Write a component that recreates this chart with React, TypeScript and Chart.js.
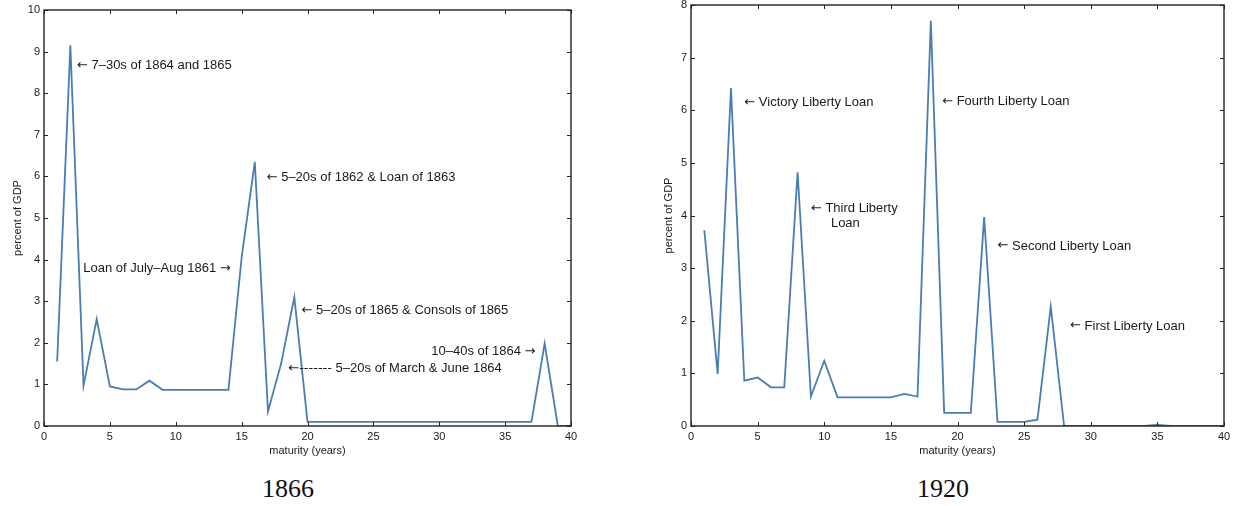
import React, { useEffect, useRef } from "react";
import { Chart, registerables } from "chart.js";

Chart.register(...registerables);

// ---------- data ----------
const maturityYears = [
  1, 2, 3, 4, 5, 6, 7, 8, 9, 10, 11, 12, 13, 14, 15, 16, 17, 18, 19, 20,
  21, 22, 23, 24, 25, 26, 27, 28, 29, 30, 31, 32, 33, 34, 35, 36, 37, 38, 39, 40,
];

const debt1866 = [
  1.55, 9.15, 0.97, 2.57, 0.95, 0.88, 0.88, 1.09, 0.87, 0.87,
  0.87, 0.87, 0.87, 0.87, 4.05, 6.35, 0.35, 1.5, 3.1, 0.1,
  0.1, 0.1, 0.1, 0.1, 0.1, 0.1, 0.1, 0.1, 0.1, 0.1,
  0.1, 0.1, 0.1, 0.1, 0.1, 0.1, 0.1, 1.98, 0, 0,
];

const debt1920 = [
  3.72, 0.99, 6.42, 0.86, 0.92, 0.735, 0.735, 4.82, 0.56, 1.24,
  0.545, 0.545, 0.545, 0.545, 0.545, 0.61, 0.56, 7.7, 0.25, 0.25,
  0.25, 3.97, 0.08, 0.08, 0.08, 0.12, 2.27, 0, 0, 0,
  0, 0, 0, 0, 0.02, 0, 0, 0, 0, 0,
];

const xTickStep = 5;
const xMax = 40;
const yMax1866 = 10;
const yMax1920 = 8;

const xTitle = "maturity (years)";
const yTitle = "percent of GDP";
const caption1866 = "1866";
const caption1920 = "1920";

// annotations (text, data-x, data-y, alignment)
const notes1866 = [
  "← 7–30s of 1864 and 1865",
  "← 5–20s of 1862 & Loan of 1863",
  "Loan of July–Aug 1861 →",
  "← 5–20s of 1865 & Consols of 1865",
  "10–40s of 1864 →",
  "←------- 5–20s of March & June 1864",
];
const notesX1866 = [2.5, 16.9, 14.17, 19.55, 37.3, 18.54];
const notesY1866 = [8.67, 5.98, 3.78, 2.78, 1.79, 1.39];
const notesAlign1866 = ["left", "left", "right", "left", "right", "left"];

const notes1920 = [
  "← Victory Liberty Loan",
  "← Fourth Liberty Loan",
  "← Third Liberty",
  "Loan",
  "← Second Liberty Loan",
  "← First Liberty Loan",
];
const notesX1920 = [4.0, 18.85, 9.0, 10.5, 23.0, 28.45];
const notesY1920 = [6.15, 6.16, 4.14, 3.84, 3.42, 1.9];
const notesAlign1920 = ["left", "left", "left", "left", "left", "left"];

// ---------- styles ----------
const SANS = "'Liberation Sans', Arial, Helvetica, sans-serif";
const ARROW_FONT = "'DejaVu Sans', sans-serif";
const SERIF = "'Liberation Serif', 'Times New Roman', serif";
const LINE_COLOR = "#4a7db1";
const TEXT_COLOR = "#1a1a1a";

type PanelProps = {
  values: number[];
  yMax: number;
  notes: string[];
  notesX: number[];
  notesY: number[];
  notesAlign: string[];
  left: number;
  width: number;
  height: number;
  axisLeftWidth: number;
  padRight: number;
  padTop: number;
  yTitlePad: number;
};

function splitArrows(txt: string): { s: string; arrow: boolean }[] {
  const out: { s: string; arrow: boolean }[] = [];
  const re = /(←-*|→)/g;
  let last = 0;
  let m: RegExpExecArray | null;
  while ((m = re.exec(txt))) {
    if (m.index > last) out.push({ s: txt.slice(last, m.index), arrow: false });
    out.push({ s: m[0], arrow: true });
    last = m.index + m[0].length;
  }
  if (last < txt.length) out.push({ s: txt.slice(last), arrow: false });
  return out;
}

function Panel(p: PanelProps) {
  const ref = useRef<HTMLCanvasElement | null>(null);

  useEffect(() => {
    if (!ref.current) return;

    const boxPlugin = {
      id: "boxTicks",
      afterDraw(chart: any) {
        const { ctx, chartArea } = chart;
        const { left, right, top, bottom } = chartArea;
        const xs = chart.scales.x;
        const ys = chart.scales.y;
        const tl = 4;
        ctx.save();
        ctx.strokeStyle = "#222";
        ctx.lineWidth = 1;
        ctx.beginPath();
        for (const t of xs.ticks) {
          const px = Math.round(xs.getPixelForValue(t.value)) + 0.5;
          ctx.moveTo(px, bottom);
          ctx.lineTo(px, bottom - tl);
          ctx.moveTo(px, top);
          ctx.lineTo(px, top + tl);
        }
        for (const t of ys.ticks) {
          const py = Math.round(ys.getPixelForValue(t.value)) + 0.5;
          ctx.moveTo(left, py);
          ctx.lineTo(left + tl, py);
          ctx.moveTo(right, py);
          ctx.lineTo(right - tl, py);
        }
        ctx.stroke();
        ctx.lineWidth = 1.4;
        ctx.strokeRect(left, top, right - left, bottom - top);
        ctx.restore();
      },
    };

    const textFont = "13px " + SANS;
    const arrowFont = "13px " + ARROW_FONT;

    const notePlugin = {
      id: "notes",
      afterDatasetsDraw(chart: any) {
        const { ctx } = chart;
        const xs = chart.scales.x;
        const ys = chart.scales.y;
        ctx.save();
        ctx.fillStyle = TEXT_COLOR;
        ctx.textBaseline = "middle";
        ctx.textAlign = "left";
        p.notes.forEach((txt, i) => {
          const parts = splitArrows(txt);
          const widths = parts.map((pt) => {
            ctx.font = pt.arrow ? arrowFont : textFont;
            return ctx.measureText(pt.s).width;
          });
          const total = widths.reduce((a, b) => a + b, 0);
          const ax = xs.getPixelForValue(p.notesX[i]);
          const ay = ys.getPixelForValue(p.notesY[i]);
          let cx = p.notesAlign[i] === "right" ? ax - total : ax;
          parts.forEach((pt, k) => {
            ctx.font = pt.arrow ? arrowFont : textFont;
            ctx.fillText(pt.s, cx, ay);
            cx += widths[k];
          });
        });
        ctx.restore();
      },
    };

    const tickFont = { family: SANS, size: 11 };
    const titleFont = { family: SANS, size: 11 };

    const chart = new Chart(ref.current, {
      type: "line",
      data: {
        datasets: [
          {
            data: maturityYears.map((m, i) => ({ x: m, y: p.values[i] })),
            borderColor: LINE_COLOR,
            borderWidth: 1.8,
            pointRadius: 0,
            tension: 0,
            fill: false,
          },
        ],
      },
      options: {
        animation: false,
        responsive: false,
        layout: { padding: { left: 0, right: p.padRight, top: p.padTop, bottom: 0 } },
        plugins: { legend: { display: false }, tooltip: { enabled: false } },
        scales: {
          x: {
            type: "linear",
            min: 0,
            max: xMax,
            ticks: { stepSize: xTickStep, padding: 4, font: tickFont, color: TEXT_COLOR, maxRotation: 0, autoSkip: false },
            grid: { display: false, drawTicks: false },
            border: { display: false },
            title: { display: true, text: xTitle, font: titleFont, color: TEXT_COLOR, padding: { top: 0, bottom: 7 } },
            afterFit: (s: any) => {
              s.height = 39;
              s.paddingLeft = 0;
              s.paddingRight = 0;
            },
          },
          y: {
            type: "linear",
            min: 0,
            max: p.yMax,
            ticks: { stepSize: 1, padding: 4, font: tickFont, color: TEXT_COLOR },
            grid: { display: false, drawTicks: false },
            border: { display: false },
            title: { display: true, text: yTitle, font: titleFont, color: TEXT_COLOR, padding: { top: p.yTitlePad, bottom: 0 } },
            afterFit: (s: any) => {
              s.width = p.axisLeftWidth;
              s.paddingTop = 0;
              s.paddingBottom = 0;
            },
          },
        },
      } as any,
      plugins: [boxPlugin, notePlugin],
    });

    return () => chart.destroy();
  }, []);

  return (
    <canvas
      ref={ref}
      width={p.width}
      height={p.height}
      style={{ position: "absolute", left: p.left, top: 0, width: p.width, height: p.height }}
    />
  );
}

export default function App() {
  const captionStyle = (cx: number): React.CSSProperties => ({
    position: "absolute",
    left: cx - 60,
    width: 120,
    top: 474,
    textAlign: "center",
    fontFamily: SERIF,
    fontSize: 26,
    lineHeight: "30px",
    color: "#111",
  });

  return (
    <div style={{ position: "fixed", left: 0, top: 0, width: 1233, height: 506, background: "#fff", overflow: "hidden" }}>
      <Panel
        values={debt1866}
        yMax={yMax1866}
        notes={notes1866}
        notesX={notesX1866}
        notesY={notesY1866}
        notesAlign={notesAlign1866}
        left={0}
        width={600}
        height={465}
        axisLeftWidth={44}
        padRight={29}
        padTop={10}
        yTitlePad={11}
      />
      <Panel
        values={debt1920}
        yMax={yMax1920}
        notes={notes1920}
        notesX={notesX1920}
        notesY={notesY1920}
        notesAlign={notesAlign1920}
        left={640}
        width={593}
        height={465}
        axisLeftWidth={51}
        padRight={9}
        padTop={5}
        yTitlePad={22}
      />
      <div style={captionStyle(288)}>{caption1866}</div>
      <div style={captionStyle(943)}>{caption1920}</div>
    </div>
  );
}
